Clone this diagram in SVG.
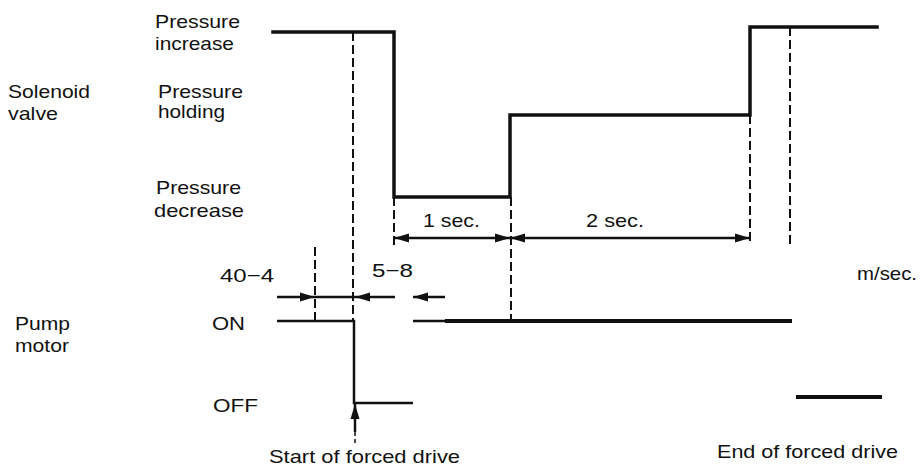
<svg xmlns="http://www.w3.org/2000/svg" width="920" height="469" viewBox="0 0 920 469">
<style>
text{font-family:"Liberation Sans",Arial,sans-serif;font-size:19px;fill:#111}
.w{fill:none;stroke:#111;stroke-width:3.5;stroke-linejoin:miter;stroke-linecap:square}
.p{fill:none;stroke:#111;stroke-width:2.5}
.pt{fill:none;stroke:#111;stroke-width:4}
.d{fill:none;stroke:#111;stroke-width:2;stroke-dasharray:9 4}
.a{fill:none;stroke:#111;stroke-width:2.5}
</style>
<defs>
<marker id="ah" markerUnits="userSpaceOnUse" markerWidth="16" markerHeight="10" refX="15" refY="5" orient="auto-start-reverse">
<path d="M0,0.5 L15,5 L0,9.5 z" fill="#111"/>
</marker>
</defs>
<rect width="920" height="469" fill="#fff"/>
<g id="labels">
<text x="8" y="98" textLength="82" lengthAdjust="spacingAndGlyphs">Solenoid</text>
<text x="8" y="120" textLength="50" lengthAdjust="spacingAndGlyphs">valve</text>
<text x="155" y="28" textLength="85" lengthAdjust="spacingAndGlyphs">Pressure</text>
<text x="155" y="50" textLength="79" lengthAdjust="spacingAndGlyphs">increase</text>
<text x="158" y="98" textLength="85" lengthAdjust="spacingAndGlyphs">Pressure</text>
<text x="158" y="118" textLength="67" lengthAdjust="spacingAndGlyphs">holding</text>
<text x="156" y="194" textLength="85" lengthAdjust="spacingAndGlyphs">Pressure</text>
<text x="154" y="217" textLength="90" lengthAdjust="spacingAndGlyphs">decrease</text>
<text x="15" y="330" textLength="55" lengthAdjust="spacingAndGlyphs">Pump</text>
<text x="15" y="352" textLength="54" lengthAdjust="spacingAndGlyphs">motor</text>
<text x="212" y="330" textLength="33" lengthAdjust="spacingAndGlyphs">ON</text>
<text x="213" y="412" textLength="45" lengthAdjust="spacingAndGlyphs">OFF</text>
<text x="220" y="282" textLength="54" lengthAdjust="spacingAndGlyphs">40−4</text>
<text x="372" y="277" textLength="41" lengthAdjust="spacingAndGlyphs">5−8</text>
<text x="857" y="280" textLength="60" lengthAdjust="spacingAndGlyphs">m/sec.</text>
<text x="423" y="227" textLength="57" lengthAdjust="spacingAndGlyphs">1 sec.</text>
<text x="586" y="227" textLength="58" lengthAdjust="spacingAndGlyphs">2 sec.</text>
<text x="269" y="463" textLength="191" lengthAdjust="spacingAndGlyphs">Start of forced drive</text>
<text x="717" y="458" textLength="181" lengthAdjust="spacingAndGlyphs">End of forced drive</text>
</g>
<g id="solenoid-valve">
<path class="w" d="M273,32 H394 V197 H510 V115 H750 V27 H877"/>
</g>
<g id="pump-motor">
<path class="p" d="M277,321 H354 V403 H413"/>
<path class="p" d="M413,321 H445"/>
<path class="pt" d="M445,321 H792"/>
<path class="pt" d="M796,397 H882"/>
</g>
<g id="connectors">
<path class="d" d="M353,32 V321"/>
<path class="d" d="M315,247 V321"/>
<path class="d" d="M394,197 V245"/>
<path class="d" d="M511,197 V321"/>
<path class="d" d="M750,115 V245"/>
<path class="d" d="M790,27 V248"/>
<line class="a" x1="394" y1="238" x2="510" y2="238" marker-start="url(#ah)" marker-end="url(#ah)"/>
<line class="a" x1="510" y1="238" x2="750" y2="238" marker-start="url(#ah)" marker-end="url(#ah)"/>
<line class="a" x1="277" y1="297" x2="315" y2="297" marker-end="url(#ah)"/>
<line class="a" x1="315" y1="297" x2="355" y2="297"/>
<line class="a" x1="395" y1="297" x2="355" y2="297" marker-end="url(#ah)"/>
<line class="a" x1="445" y1="297" x2="413" y2="297" marker-end="url(#ah)"/>
<line class="a" x1="355" y1="432" x2="355" y2="404" marker-end="url(#ah)"/>
<path class="d" d="M355,432 V446" style="stroke-dasharray:4 3;stroke-width:1.5"/>
</g>
</svg>
